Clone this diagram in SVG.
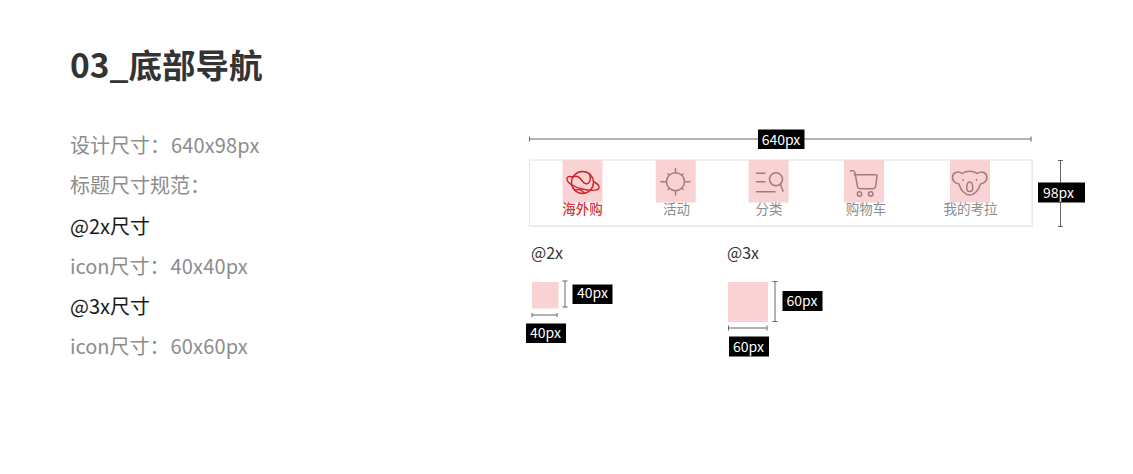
<svg xmlns="http://www.w3.org/2000/svg" width="1133" height="474" viewBox="0 0 1133 474">
<style>
text{font-family:"Noto Sans CJK SC","Noto Sans",sans-serif}
.title{font-size:33.500px;font-weight:700;fill:#333}
.g{font-size:20px;fill:#8c8c8c}
.k{font-size:20px;fill:#1a1a1a}
.l{letter-spacing:.15px}
.tab{font-size:13.500px;fill:#8c8c8c;text-anchor:middle}
.tabr{font-size:13.500px;font-weight:500;fill:#d9363e;text-anchor:middle}
.pink{fill:#f9d3d3}
.dim{stroke:#666;stroke-width:1;fill:none}
.tag{fill:#000}
.tagt{font-size:14px;fill:#fff;text-anchor:middle}
.sub{font-size:16px;fill:#333}
.ic{fill:none;stroke:#a57a7d;stroke-width:1.500;stroke-linecap:round;stroke-linejoin:round}
.icr{fill:none;stroke:#d0202a;stroke-width:1.400;stroke-linecap:round;stroke-linejoin:round}
</style>
<rect width="1133" height="474" fill="#fff"/>
<g id="heading">
<text class="title" x="70" y="78">03_底部导航</text>
<text class="g" x="70" y="153">设计尺寸：<tspan class="l" dx="1">640x98px</tspan></text>
<text class="g" x="70" y="193">标题尺寸规范：</text>
<text class="k" x="70" y="234">@2x尺寸</text>
<text class="g" x="70" y="274">icon尺寸：<tspan class="l" dx="1">40x40px</tspan></text>
<text class="k" x="70" y="314">@3x尺寸</text>
<text class="g" x="70" y="354">icon尺寸：<tspan class="l" dx="1">60x60px</tspan></text>
</g>
<g id="tabbar">
<rect x="530" y="161" width="503" height="66" fill="#efefef"/>
<rect x="529.500" y="160" width="502.500" height="66" fill="#fff" stroke="#e2e2e2" stroke-width="1"/>
</g>
<g id="tab-1">
<rect class="pink" x="562.500" y="160" width="40" height="42.500"/>
<text class="tabr" x="582.500" y="214">海外购</text>
<circle class="icr" cx="582.500" cy="182.500" r="11"/>
<path class="icr" d="M573 177c-4-1-6-.5-6 2c0 4 7 8 15 10c8 2 16 2 17-1c.5-2-1-4-5-6M572.500 177c4-2 7 0 9 3c2 3 5 5 7 3c2-2 2-6 1-9.500M575 190c4-1 7 0 9 3"/>
</g>
<g id="tab-2">
<rect class="pink" x="655.700" y="160" width="40" height="42.500"/>
<text class="tab" x="676.500" y="214">活动</text>
<circle class="ic" cx="675.500" cy="181.700" r="9"/>
<path class="ic" d="M675.500 168.500v4M675.500 191v4M661 181.700h5M685 181.700h5M668 174l1 1M682 188.500l1 1M668 189.500l1-1M682 175l1-1"/>
</g>
<g id="tab-3">
<rect class="pink" x="748.700" y="160" width="40" height="42.500"/>
<text class="tab" x="769" y="214">分类</text>
<path class="ic" d="M756.500 173.300h8.500M756.500 181.700h8.500M756.500 191.700h18.500"/>
<circle class="ic" cx="776" cy="179.300" r="6.500"/>
<path class="ic" d="M780.500 184.300l2.500 7"/>
</g>
<g id="tab-4">
<rect class="pink" x="844" y="160" width="40" height="42.500"/>
<text class="tab" x="866" y="214">购物车</text>
<path class="ic" d="M850.500 170.700h2.500c1 0 1.500.5 2 2l2.500 14c.3 1.500 1.200 2 2.500 2h13c1.500 0 2.200-.7 2.500-2l1.500-10.500c.2-1-.3-1.500-1.300-1.500h-21.500"/>
<circle class="ic" cx="859.500" cy="194" r="2.200"/>
<circle class="ic" cx="870.700" cy="194" r="2.200"/>
</g>
<g id="tab-5">
<rect class="pink" x="950" y="160" width="40" height="42.500"/>
<text class="tab" x="970.500" y="214">我的考拉</text>
<path class="ic" d="M962 173.500c-4-3-9.500-1-9.500 3.500c0 4 3 6.500 6.500 7c1.500 6 6 11 10.700 11c4.700 0 9.200-5 10.700-11c3.500-.5 6.500-3 6.500-7c0-4.500-5.500-6.500-9.500-3.500c-2.500-1.500-5-2.300-7.700-2.300c-3 0-5.500.8-7.700 2.300z"/>
<path class="ic" d="M969.700 182c-2 0-3 3-3 6c0 2.500 1.300 3.500 3 3.500c1.700 0 3-1 3-3.500c0-3-1-6-3-6z"/>
<circle cx="963" cy="180" r=".9" fill="#a57a7d"/>
<circle cx="976.500" cy="180" r=".9" fill="#a57a7d"/>
</g>
<g id="connectors">
<path class="dim" d="M529.500 136.500v5M529.500 139h501.500M1031 136.500v5"/>
<path class="dim" d="M1058 160.500h5M1060.500 160.500v66M1058 226.500h5"/>
<path class="dim" d="M562.500 281h5M565 281v26M562.500 307h5"/>
<path class="dim" d="M532 313v4M532 315h25M557 313v4"/>
<path class="dim" d="M772.500 281.500h5M775 281.500v40M772.500 321.500h5"/>
<path class="dim" d="M728.500 325.500v5M728.500 328h38.500M767 325.500v5"/>
</g>
<g id="dim-640"><rect class="tag" x="758" y="129.500" width="46.500" height="19.500"/><text class="tagt" x="781" y="144.500">640px</text></g>
<g id="dim-98"><rect class="tag" x="1038" y="182.500" width="47" height="20"/><text class="tagt" x="1058.500" y="197.500">98px</text></g>
<g id="sample-2x">
<text class="sub" x="531" y="259">@2x</text>
<rect class="pink" x="532" y="282" width="26.500" height="26.500"/>
</g>
<g id="dim-40a"><rect class="tag" x="572.500" y="284.500" width="40" height="19.500"/><text class="tagt" x="592.500" y="298">40px</text></g>
<g id="dim-40b"><rect class="tag" x="526" y="323.500" width="40" height="19.500"/><text class="tagt" x="545.500" y="338">40px</text></g>
<g id="sample-3x">
<text class="sub" x="727" y="259">@3x</text>
<rect class="pink" x="728" y="282" width="40" height="40"/>
</g>
<g id="dim-60a"><rect class="tag" x="782.500" y="291" width="40" height="20"/><text class="tagt" x="802" y="306">60px</text></g>
<g id="dim-60b"><rect class="tag" x="729" y="336.500" width="40" height="20"/><text class="tagt" x="748.500" y="351.500">60px</text></g>
</svg>
